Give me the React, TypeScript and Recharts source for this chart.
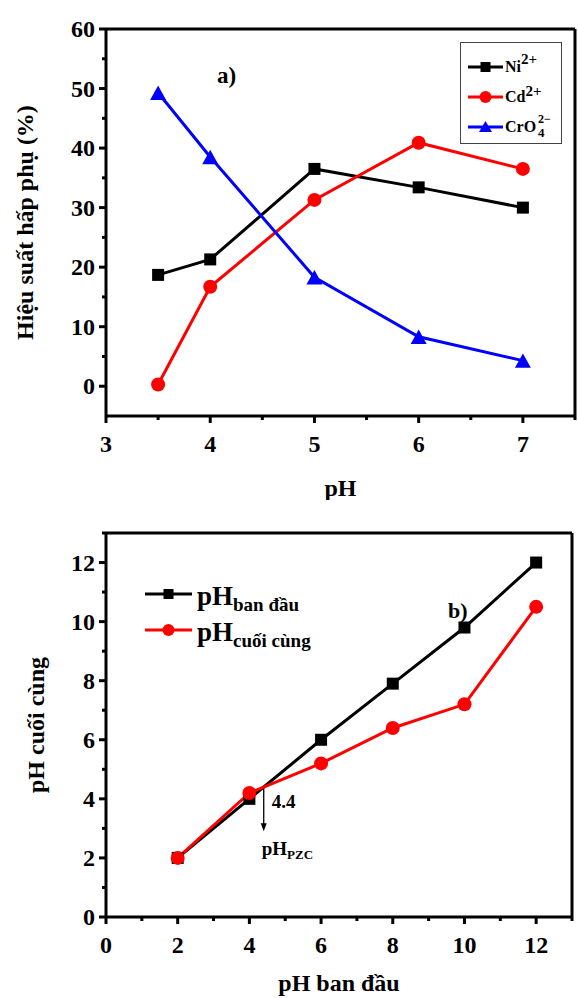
import React from 'react';
import { LineChart, Line, XAxis, YAxis, ReferenceLine, Legend, Label } from 'recharts';

const FONT = '"Liberation Serif", "Times New Roman", serif';

// ---- Chart a) adsorption efficiency vs pH ----
const phValuesA = [3.5, 4, 5, 6, 7];
const niEfficiency = [18.7, 21.3, 36.5, 33.4, 30.0];
const cdEfficiency = [0.3, 16.7, 31.3, 40.9, 36.5];
const crEfficiency = [49.3, 38.5, 18.3, 8.3, 4.3];
const xTicksA = [3, 3.5, 4, 4.5, 5, 5.5, 6, 6.5, 7, 7.5];
const xMajorA = [3, 4, 5, 6, 7];
const yTicksA = [0, 5, 10, 15, 20, 25, 30, 35, 40, 45, 50, 55, 60];
const yMajorA = [0, 10, 20, 30, 40, 50, 60];
const legendOrderA = ['ni', 'cd', 'cr'];

// ---- Chart b) final pH vs initial pH ----
const phInitial = [2, 4, 6, 8, 10, 12];
const phInitialLine = [2, 4, 6, 7.9, 9.8, 12];
const phFinal = [2, 4.2, 5.2, 6.4, 7.2, 10.5];
const xTicksB = [0, 1, 2, 3, 4, 5, 6, 7, 8, 9, 10, 11, 12, 13];
const xMajorB = [0, 2, 4, 6, 8, 10, 12];
const yTicksB = [0, 1, 2, 3, 4, 5, 6, 7, 8, 9, 10, 11, 12, 13];
const yMajorB = [0, 2, 4, 6, 8, 10, 12];
const legendOrderB = ['init', 'fin'];
const pzcValue = 4.4;
const pzcArrowEnd = 2.9;

const dataA = phValuesA.map((ph, i) => ({
  ph,
  ni: niEfficiency[i],
  cd: cdEfficiency[i],
  cr: crEfficiency[i],
}));

const dataB = phInitial.map((x, i) => ({
  x,
  init: phInitialLine[i],
  fin: phFinal[i],
}));

const XTick = (props: any) => {
  const { x, y, payload, majors } = props;
  const major = majors.includes(payload.value);
  return (
    <g>
      <line x1={x} x2={x} y1={y} y2={y + (major ? 7 : 4)} stroke="#000" strokeWidth={3} />
      {major && (
        <text x={x} y={y + 36} textAnchor="middle" fontFamily={FONT} fontWeight="bold" fontSize={24} fill="#000">
          {payload.value}
        </text>
      )}
    </g>
  );
};

const YTick = (props: any) => {
  const { x, y, payload, majors } = props;
  const major = majors.includes(payload.value);
  return (
    <g>
      <line x1={x} x2={x - (major ? 7 : 4)} y1={y} y2={y} stroke="#000" strokeWidth={3} />
      {major && (
        <text x={x - 11} y={y + 8} textAnchor="end" fontFamily={FONT} fontWeight="bold" fontSize={24} fill="#000">
          {payload.value}
        </text>
      )}
    </g>
  );
};

const squareDot = (size: number, color: string) => (props: any) => {
  const { cx, cy, index } = props;
  if (cx == null || cy == null) return <g key={`sq-${index}`} />;
  return <rect key={`sq-${index}`} x={cx - size / 2} y={cy - size / 2} width={size} height={size} fill={color} />;
};

const circleDot = (r: number, color: string) => (props: any) => {
  const { cx, cy, index } = props;
  if (cx == null || cy == null) return <g key={`ci-${index}`} />;
  return <circle key={`ci-${index}`} cx={cx} cy={cy} r={r} fill={color} />;
};

const triangleDot = (w: number, color: string) => (props: any) => {
  const { cx, cy, index } = props;
  if (cx == null || cy == null) return <g key={`tr-${index}`} />;
  const h = w * 0.9;
  return (
    <polygon
      key={`tr-${index}`}
      points={`${cx - w / 2},${cy + h / 2} ${cx + w / 2},${cy + h / 2} ${cx},${cy - h / 2}`}
      fill={color}
    />
  );
};

const symbolFor = (key: string, cx: number, cy: number, color: string) => {
  if (key === 'ni' || key === 'init') return <rect x={cx - 5} y={cy - 5} width={10} height={10} fill={color} />;
  if (key === 'cd' || key === 'fin') return <circle cx={cx} cy={cy} r={6} fill={color} />;
  return <polygon points={`${cx - 6.5},${cy + 5} ${cx + 6.5},${cy + 5} ${cx},${cy - 6}`} fill={color} />;
};

const legendLabelA = (key: string, x: number, y: number) => {
  const common = { fontFamily: FONT, fontWeight: 'bold' as const, fill: '#000' };
  if (key === 'ni')
    return (
      <text x={x} y={y} fontSize={16} {...common}>
        Ni<tspan dy={-8} fontSize={15}>2+</tspan>
      </text>
    );
  if (key === 'cd')
    return (
      <text x={x} y={y} fontSize={16} {...common}>
        Cd<tspan dy={-6} fontSize={15}>2+</tspan>
      </text>
    );
  return (
    <g>
      <text x={x} y={y} fontSize={16} {...common}>
        CrO
      </text>
      <text x={x + 33} y={y - 9} fontSize={12} {...common}>
        2−
      </text>
      <text x={x + 33} y={y + 5} fontSize={13} {...common}>
        4
      </text>
    </g>
  );
};

const sortPayload = (payload: any[], order: string[]) =>
  [...payload].sort((a, b) => order.indexOf(a.dataKey) - order.indexOf(b.dataKey));

const LegendA = (props: any) => {
  const payload = sortPayload(props.payload || [], legendOrderA);
  return (
    <svg width={102} height={102} style={{ display: 'block' }}>
      <rect x={0.5} y={0.5} width={101} height={101} fill="#fff" stroke="#444" strokeWidth={1} />
      {payload.map((entry: any, i: number) => {
        const cy = 25 + i * 30;
        return (
          <g key={entry.dataKey}>
            <line x1={8} x2={43} y1={cy} y2={cy} stroke={entry.color} strokeWidth={3} />
            {symbolFor(entry.dataKey, 25.5, cy, entry.color)}
            {legendLabelA(entry.dataKey, 45, cy + 5)}
          </g>
        );
      })}
    </svg>
  );
};

const legendSubB: Record<string, string> = { init: 'ban đầu', fin: 'cuối cùng' };

const LegendB = (props: any) => {
  const payload = sortPayload(props.payload || [], legendOrderB);
  return (
    <svg width={200} height={90} style={{ display: 'block' }}>
      {payload.map((entry: any, i: number) => {
        const cy = 19 + i * 36;
        return (
          <g key={entry.dataKey}>
            <line x1={5} x2={52} y1={cy} y2={cy} stroke={entry.color} strokeWidth={3} />
            {symbolFor(entry.dataKey, 28.5, cy, entry.color)}
            <text x={57} y={cy + 11} fontFamily={FONT} fontWeight="bold" fontSize={27} fill="#000">
              pH
              <tspan dy={6} fontSize={19}>
                {legendSubB[entry.dataKey]}
              </tspan>
            </text>
          </g>
        );
      })}
    </svg>
  );
};

const PzcArrow = (props: any) => {
  const { x1, y1, x2, y2 } = props;
  if (x1 == null) return <g />;
  return (
    <g>
      <line x1={x1} y1={y1} x2={x2} y2={y2 - 6} stroke="#000" strokeWidth={1.3} />
      <polygon points={`${x2 - 3},${y2 - 8} ${x2 + 3},${y2 - 8} ${x2},${y2}`} fill="#000" />
      <text x={x1 + 8} y={y1 + 21} fontFamily={FONT} fontWeight="bold" fontSize={19} fill="#000">
        {pzcValue}
      </text>
      <text x={x2 - 2} y={y2 + 24} fontFamily={FONT} fontWeight="bold" fontSize={19} fill="#000">
        pH
        <tspan dy={4} fontSize={13}>PZC</tspan>
      </text>
    </g>
  );
};

const axisLine = { stroke: '#000', strokeWidth: 3 };

export default function App() {
  return (
    <div style={{ position: 'absolute', left: 0, top: 0, width: 578, height: 998, background: '#fff' }}>
      <div style={{ position: 'absolute', left: 0, top: 0 }}>
        <LineChart width={578} height={500} data={dataA} margin={{ top: 29, right: 3, bottom: 0, left: 0 }}>
          <XAxis
            dataKey="ph"
            type="number"
            domain={[3, 7.5]}
            ticks={xTicksA}
            interval={0}
            height={84}
            axisLine={axisLine}
            tickLine={false}
            tickSize={0}
            tickMargin={0}
            allowDataOverflow
            tick={(p: any) => <XTick {...p} majors={xMajorA} />}
          >
            <Label
              content={(p: any) => {
                const vb = p.viewBox;
                return (
                  <text x={vb.x + vb.width / 2} y={vb.y + 80} textAnchor="middle" fontFamily={FONT} fontWeight="bold" fontSize={24} fill="#000">
                    pH
                  </text>
                );
              }}
            />
          </XAxis>
          <YAxis
            type="number"
            domain={[-5, 60]}
            ticks={yTicksA}
            interval={0}
            width={106}
            axisLine={axisLine}
            tickLine={false}
            tickSize={0}
            tickMargin={0}
            allowDataOverflow
            tick={(p: any) => <YTick {...p} majors={yMajorA} />}
          >
            <Label
              content={(p: any) => {
                const vb = p.viewBox;
                const cy = vb.y + vb.height / 2;
                return (
                  <text x={33} y={cy} transform={`rotate(-90 33 ${cy})`} textAnchor="middle" fontFamily={FONT} fontWeight="bold" fontSize={24} fill="#000">
                    Hiệu suất hấp phụ (%)
                  </text>
                );
              }}
            />
          </YAxis>
          <ReferenceLine y={60} stroke="#000" strokeWidth={3} />
          <ReferenceLine x={7.5} stroke="#000" strokeWidth={3} />
          <Legend
            layout="vertical"
            align="center"
            verticalAlign="middle"
            content={<LegendA />}
            wrapperStyle={{ left: 460, top: 42, width: 102, height: 102 }}
          />
          <Line name="Ni2+" dataKey="ni" stroke="#000" strokeWidth={3} dot={squareDot(12, '#000')} isAnimationActive={false} />
          <Line name="Cd2+" dataKey="cd" stroke="#ff0000" strokeWidth={3} dot={circleDot(7, '#ff0000')} isAnimationActive={false} />
          <Line name="CrO42-" dataKey="cr" stroke="#0000ff" strokeWidth={3} dot={triangleDot(16, '#0000ff')} isAnimationActive={false} />
          <text x={217} y={83} fontFamily={FONT} fontWeight="bold" fontSize={23} fill="#000">
            a)
          </text>
        </LineChart>
      </div>
      <div style={{ position: 'absolute', left: 0, top: 500 }}>
        <LineChart width={578} height={498} data={dataB} margin={{ top: 33, right: 6, bottom: 0, left: 0 }}>
          <XAxis
            dataKey="x"
            type="number"
            domain={[0, 13]}
            ticks={xTicksB}
            interval={0}
            height={81}
            axisLine={axisLine}
            tickLine={false}
            tickSize={0}
            tickMargin={0}
            allowDataOverflow
            tick={(p: any) => <XTick {...p} majors={xMajorB} />}
          >
            <Label
              content={(p: any) => {
                const vb = p.viewBox;
                return (
                  <text x={vb.x + vb.width / 2} y={vb.y + 74} textAnchor="middle" fontFamily={FONT} fontWeight="bold" fontSize={24} fill="#000">
                    pH ban đầu
                  </text>
                );
              }}
            />
          </XAxis>
          <YAxis
            type="number"
            domain={[0, 13]}
            ticks={yTicksB}
            interval={0}
            width={106}
            axisLine={axisLine}
            tickLine={false}
            tickSize={0}
            tickMargin={0}
            allowDataOverflow
            tick={(p: any) => <YTick {...p} majors={yMajorB} />}
          >
            <Label
              content={(p: any) => {
                const vb = p.viewBox;
                const cy = vb.y + vb.height / 2;
                return (
                  <text x={44} y={cy} transform={`rotate(-90 44 ${cy})`} textAnchor="middle" fontFamily={FONT} fontWeight="bold" fontSize={24} fill="#000">
                    pH cuối cùng
                  </text>
                );
              }}
            />
          </YAxis>
          <ReferenceLine y={13} stroke="#000" strokeWidth={3} />
          <ReferenceLine x={13} stroke="#000" strokeWidth={3} />
          <ReferenceLine
            segment={[
              { x: pzcValue, y: pzcValue },
              { x: pzcValue, y: pzcArrowEnd },
            ]}
            shape={PzcArrow}
          />
          <Legend
            layout="vertical"
            align="center"
            verticalAlign="middle"
            content={<LegendB />}
            wrapperStyle={{ left: 140, top: 75, width: 200, height: 90 }}
          />
          <Line name="pH ban đầu" dataKey="init" stroke="#000" strokeWidth={3} dot={squareDot(12, '#000')} isAnimationActive={false} />
          <Line name="pH cuối cùng" dataKey="fin" stroke="#ff0000" strokeWidth={3} dot={circleDot(7, '#ff0000')} isAnimationActive={false} />
          <text x={448} y={118} fontFamily={FONT} fontWeight="bold" fontSize={22} fill="#000">
            b)
          </text>
        </LineChart>
      </div>
    </div>
  );
}
